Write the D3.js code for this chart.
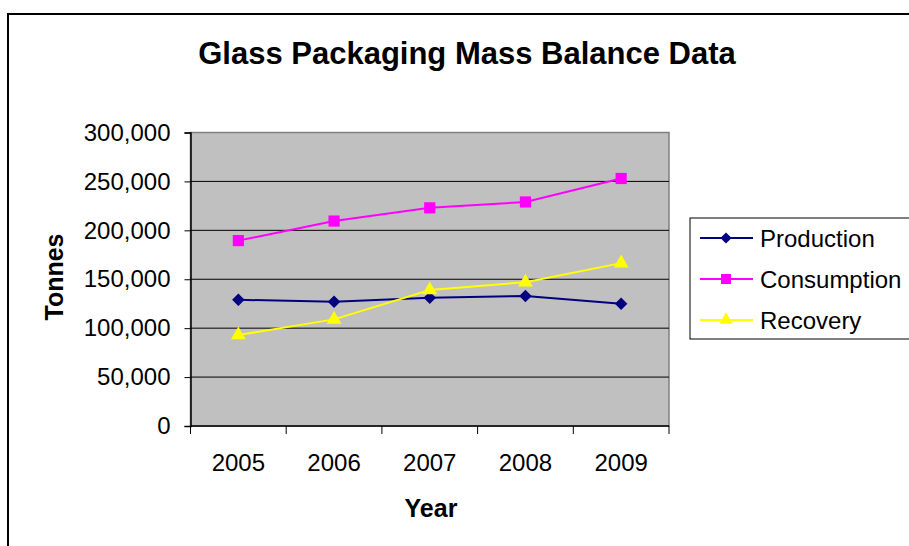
<!DOCTYPE html>
<html>
<head>
<meta charset="utf-8">
<script src="https://cdn.jsdelivr.net/npm/d3@7"></script>
<style>
  html, body { margin: 0; padding: 0; background: #fff; }
  svg { display: block; font-family: "Liberation Sans", Arial, sans-serif; }
</style>
</head>
<body>
<svg id="chart" width="909" height="546"></svg>
<script>
// Glass packaging mass balance, tonnes per year
const years = ["2005", "2006", "2007", "2008", "2009"];
const production = [129000, 127000, 131000, 133000, 125000];
const consumption = [189500, 209500, 223000, 229000, 253000];
const recovery = [93000, 109000, 139000, 147000, 166500];
const yTicks = [0, 50000, 100000, 150000, 200000, 250000, 300000];
const seriesNames = ["Production", "Consumption", "Recovery"];

// Square diamond (rotated square) marker
const symbolRhombus = {
  draw(ctx, size) {
    const r = Math.sqrt(size / 2);
    ctx.moveTo(0, -r);
    ctx.lineTo(r, 0);
    ctx.lineTo(0, r);
    ctx.lineTo(-r, 0);
    ctx.closePath();
  }
};

const series = [
  { name: seriesNames[0], values: production, color: "#000080", symbol: symbolRhombus, size: 78 },
  { name: seriesNames[1], values: consumption, color: "#FF00FF", symbol: d3.symbolSquare, size: 125 },
  { name: seriesNames[2], values: recovery, color: "#FFFF00", symbol: d3.symbolTriangle, size: 95 }
];

const svg = d3.select("#chart");
const plot = { left: 190.5, right: 669, top: 132.5, bottom: 426 };

// Outer chart frame
svg.append("rect")
  .attr("x", 8).attr("y", 14)
  .attr("width", 920).attr("height", 560)
  .attr("fill", "#fff").attr("stroke", "#000").attr("stroke-width", 2);

// Title
svg.append("text")
  .attr("x", 467).attr("y", 64)
  .attr("text-anchor", "middle")
  .attr("font-size", 31).attr("font-weight", "bold")
  .text("Glass Packaging Mass Balance Data");

const x = d3.scaleBand().domain(years).range([plot.left, plot.right]);
const y = d3.scaleLinear().domain([0, 300000]).range([plot.bottom, plot.top]);

// Plot area background
svg.append("rect")
  .attr("x", plot.left).attr("y", plot.top)
  .attr("width", plot.right - plot.left).attr("height", plot.bottom - plot.top)
  .attr("fill", "#C0C0C0").attr("stroke", "#808080").attr("stroke-width", 1.5);

// Horizontal gridlines
svg.append("g")
  .selectAll("line")
  .data(yTicks.filter(t => t > 0 && t < 300000))
  .join("line")
  .attr("x1", plot.left).attr("x2", plot.right)
  .attr("y1", d => y(d)).attr("y2", d => y(d))
  .attr("stroke", "#000").attr("stroke-width", 1);

// Y axis
const fmt = d3.format(",");
const yAxis = svg.append("g")
  .attr("transform", `translate(${plot.left},0)`)
  .call(d3.axisLeft(y).tickValues(yTicks).tickFormat(fmt).tickSize(6).tickPadding(14));
yAxis.select(".domain").attr("stroke", "#000").attr("stroke-width", 1.5);
yAxis.selectAll(".tick line").attr("stroke", "#000");
yAxis.selectAll(".tick text")
  .attr("font-size", 24).attr("fill", "#000")
  .attr("font-family", "'Liberation Sans', Arial, sans-serif");

// X axis: tick marks on category boundaries, labels centred in bands
const xAxis = svg.append("g")
  .attr("transform", `translate(0,${plot.bottom})`);
xAxis.append("line")
  .attr("x1", plot.left).attr("x2", plot.right)
  .attr("stroke", "#000").attr("stroke-width", 1.5);
const bounds = years.map(d => x(d)).concat([x(years[years.length - 1]) + x.bandwidth()]);
xAxis.selectAll("line.tk")
  .data(bounds)
  .join("line").attr("class", "tk")
  .attr("x1", d => d).attr("x2", d => d)
  .attr("y1", 0).attr("y2", 8)
  .attr("stroke", "#000");
xAxis.selectAll("text")
  .data(years)
  .join("text")
  .attr("x", d => x(d) + x.bandwidth() / 2)
  .attr("y", 45)
  .attr("text-anchor", "middle")
  .attr("font-size", 24)
  .text(d => d);

// Axis titles
svg.append("text")
  .attr("x", 431).attr("y", 517)
  .attr("text-anchor", "middle")
  .attr("font-size", 25).attr("font-weight", "bold")
  .text("Year");
svg.append("text")
  .attr("transform", "translate(63,277) rotate(-90)")
  .attr("text-anchor", "middle")
  .attr("font-size", 25).attr("font-weight", "bold")
  .text("Tonnes");

// Series lines and markers
const line = d3.line()
  .x((d, i) => x(years[i]) + x.bandwidth() / 2)
  .y(d => y(d));

series.forEach(s => {
  svg.append("path")
    .datum(s.values)
    .attr("d", line)
    .attr("fill", "none")
    .attr("stroke", s.color)
    .attr("stroke-width", 2);
  svg.append("g")
    .selectAll("path")
    .data(s.values)
    .join("path")
    .attr("transform", (d, i) => `translate(${x(years[i]) + x.bandwidth() / 2},${y(d)})`)
    .attr("d", d3.symbol().type(s.symbol).size(s.size))
    .attr("fill", s.color);
});

// Legend
const legend = svg.append("g");
legend.append("rect")
  .attr("x", 690).attr("y", 218)
  .attr("width", 240).attr("height", 121)
  .attr("fill", "#fff").attr("stroke", "#000").attr("stroke-width", 1);
series.forEach((s, i) => {
  const cy = 238 + i * 41;
  legend.append("line")
    .attr("x1", 700).attr("x2", 753)
    .attr("y1", cy).attr("y2", cy)
    .attr("stroke", s.color).attr("stroke-width", 2);
  legend.append("path")
    .attr("transform", `translate(726,${cy})`)
    .attr("d", d3.symbol().type(s.symbol).size(s.size * 0.8))
    .attr("fill", s.color);
  legend.append("text")
    .attr("x", 760).attr("y", cy + 8.5)
    .attr("font-size", 24)
    .text(s.name);
});
</script>
</body>
</html>
